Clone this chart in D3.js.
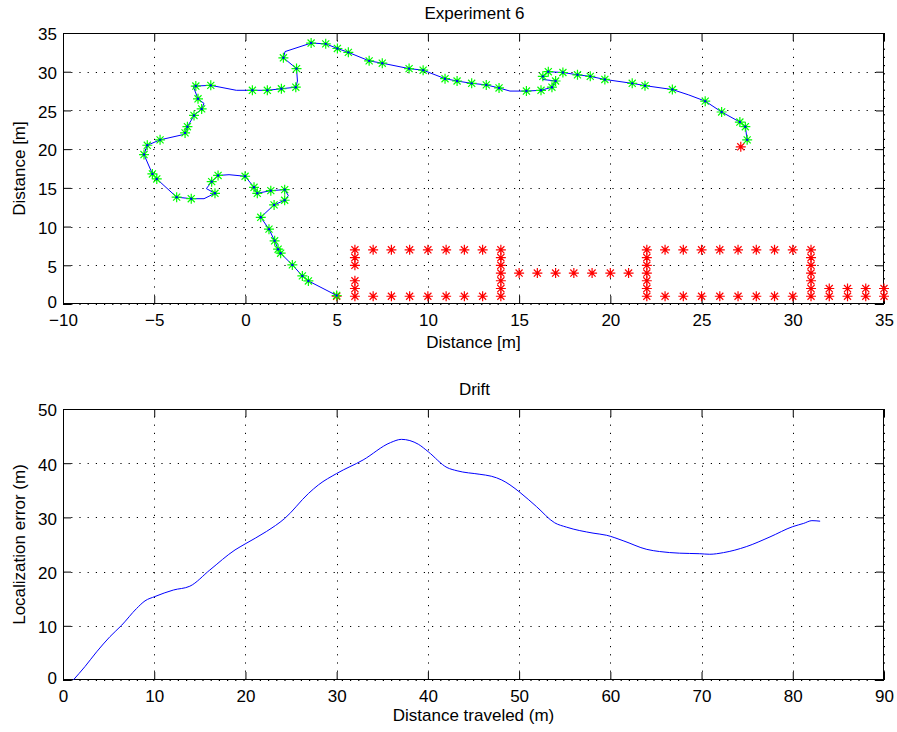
<!DOCTYPE html>
<html>
<head>
<meta charset="utf-8">
<script src="https://cdn.jsdelivr.net/npm/d3@7"></script>
<style>
  html, body { margin: 0; padding: 0; background: #fff; }
  svg { display: block; }
  text { font-family: "Liberation Sans", Arial, Helvetica, sans-serif; fill: #000; }
</style>
</head>
<body>
<svg id="chart" width="897" height="732"></svg>
<script>
// ---- Experiment 6: estimated trajectory (blue line, green keyframe estimates) ----
const trackX = [5.0, 3.45, 3.12, 2.57, 1.93, 1.79, 1.6, 1.29, 0.84, 1.57, 2.15, 2.35, 2.15, 1.39, 0.65, 0.47, -0.02, -0.9, -1.5, -1.85, -2.14, -1.67, -2.27, -2.97, -3.77, -4.86, -5.1, -5.56, -5.38, -4.68, -3.37, -3.31, -3.18, -2.82, -2.4, -2.27, -2.6, -2.87, -2.72, -1.9, -0.5, 0.38, 1.2, 1.97, 2.76, 2.85, 2.8, 2.08, 2.17, 3.6, 4.4, 5.04, 5.64, 6.78, 7.5, 8.97, 9.74, 10.94, 11.6, 12.4, 13.2, 13.9, 14.5, 15.4, 16.2, 16.8, 17.0, 16.3, 16.3, 16.6, 17.4, 18.2, 18.9, 19.7, 21.2, 21.9, 23.4, 24.3, 25.2, 26.1, 27.1, 27.4, 27.5];
const trackY = [1.1, 2.98, 3.63, 5.05, 6.56, 7.08, 8.16, 9.67, 11.2, 12.8, 13.4, 14.0, 14.77, 14.64, 14.3, 15.07, 16.5, 16.7, 16.6, 15.8, 14.9, 14.3, 13.6, 13.6, 13.8, 16.15, 16.8, 19.3, 20.5, 21.2, 21.9, 22.1, 22.9, 24.35, 25.2, 25.9, 26.5, 28.15, 28.15, 28.24, 27.6, 27.6, 27.6, 27.8, 28.0, 28.8, 30.4, 31.8, 32.6, 33.7, 33.6, 33.0, 32.5, 31.4, 31.1, 30.4, 30.2, 29.1, 28.8, 28.5, 28.3, 27.9, 27.5, 27.5, 27.6, 28.0, 28.8, 29.0, 29.4, 30.0, 29.9, 29.6, 29.4, 29.0, 28.5, 28.2, 27.7, 27.0, 26.2, 24.8, 23.5, 22.9, 21.2];
// 1 = keyframe estimate drawn with a green asterisk
const trackKey = [1, 1, 1, 1, 1, 1, 1, 1, 1, 1, 1, 0, 1, 1, 1, 1, 1, 0, 1, 1, 0, 1, 0, 1, 1, 1, 1, 1, 1, 1, 0, 1, 1, 1, 1, 0, 1, 0, 1, 1, 0, 1, 1, 1, 1, 0, 1, 1, 0, 1, 1, 1, 1, 1, 1, 1, 1, 1, 1, 1, 1, 1, 0, 1, 1, 1, 1, 0, 1, 1, 1, 1, 1, 1, 1, 1, 1, 0, 1, 1, 1, 1, 1];

// ---- Ground-truth positions (red asterisks) ----
const truthX = [5,
  6, 6, 6, 6, 6, 6,
  7, 8, 9, 10, 11, 12, 13,
  7, 8, 9, 10, 11, 12, 13,
  14, 14, 14, 14, 14, 14, 14,
  15, 16, 17, 18, 19, 20, 21,
  22, 22, 22, 22, 22, 22, 22,
  23, 24, 25, 26, 27, 28, 29, 30,
  23, 24, 25, 26, 27, 28, 29, 30,
  31, 31, 31, 31, 31, 31, 31,
  32, 33, 34, 35,
  32, 33, 34, 35,
  27.15];
const truthY = [1,
  1, 2, 3, 5, 6, 7,
  7, 7, 7, 7, 7, 7, 7,
  1, 1, 1, 1, 1, 1, 1,
  1, 2, 3, 4, 5, 6, 7,
  4, 4, 4, 4, 4, 4, 4,
  1, 2, 3, 4, 5, 6, 7,
  7, 7, 7, 7, 7, 7, 7, 7,
  1, 1, 1, 1, 1, 1, 1, 1,
  1, 2, 3, 4, 5, 6, 7,
  1, 1, 1, 1,
  2, 2, 2, 2,
  20.3];

const mapXTicks = [-10, -5, 0, 5, 10, 15, 20, 25, 30, 35];
const mapYTicks = [0, 5, 10, 15, 20, 25, 30, 35];

// ---- Drift: localization error vs distance travelled ----
const driftDist = [1.13, 2.4, 3.69, 5.15, 6.43, 8.07, 8.99, 10.08, 12.1, 13.9, 16.1, 18.86, 19.96, 22.3, 24.3, 26.9, 28.0, 30.0, 32.9, 35.9, 37.1, 38.95, 40.05, 42.1, 43.2, 45.7, 46.95, 48.1, 49.0, 50.1, 51.9, 53.9, 55.2, 58.1, 59.6, 61.4, 64.0, 65.4, 67.6, 69.8, 70.9, 72.4, 74.9, 77.5, 80.0, 81.2, 82.1, 83.0];
const driftErr = [0, 2.46, 5.2, 8.0, 10.1, 13.2, 14.6, 15.4, 16.6, 17.3, 20.3, 24.0, 25.1, 27.4, 29.8, 34.4, 36.0, 38.1, 40.6, 43.8, 44.4, 43.5, 42.1, 39.2, 38.6, 37.95, 37.6, 36.9, 36.0, 34.6, 32.0, 29.0, 28.2, 27.1, 26.7, 25.7, 24.1, 23.7, 23.4, 23.3, 23.2, 23.5, 24.6, 26.4, 28.3, 28.9, 29.4, 29.3];

const driftXTicks = [0, 10, 20, 30, 40, 50, 60, 70, 80, 90];
const driftYTicks = [0, 10, 20, 30, 40, 50];

// ---------------------------------------------------------------------------
const svg = d3.select("#chart");
const FONT = 17;

function asterisk(r) {
  const d = r * Math.SQRT1_2;
  return `M${-r},0H${r}M0,${-r}V${r}M${-d},${-d}L${d},${d}M${-d},${d}L${d},${-d}`;
}

function drawFrame(x, y, xTicks, yTicks, box, xPad) {
  const g = svg.append("g");
  // dotted grid
  const grid = g.append("g").attr("stroke", "#000").attr("stroke-width", 1)
    .attr("stroke-dasharray", "1.2,7").attr("fill", "none");
  xTicks.forEach(t => {
    grid.append("line").attr("x1", Math.round(x(t)) + 0.5).attr("x2", Math.round(x(t)) + 0.5)
      .attr("y1", box.bottom).attr("y2", box.top);
  });
  yTicks.forEach(t => {
    grid.append("line").attr("y1", Math.round(y(t)) + 0.5).attr("y2", Math.round(y(t)) + 0.5)
      .attr("x1", box.left).attr("x2", box.right);
  });

  // axes with inward ticks on all four sides
  const bottom = g.append("g").attr("transform", `translate(0,${box.bottom})`)
    .call(d3.axisBottom(x).tickValues(xTicks).tickSize(-8).tickPadding(xPad)
      .tickFormat(d => d < 0 ? "\u2212" + Math.abs(d) : d));
  const left = g.append("g").attr("transform", `translate(${box.left},0)`)
    .call(d3.axisLeft(y).tickValues(yTicks).tickSize(-8).tickPadding(6));
  const top = g.append("g").attr("transform", `translate(0,${box.top})`)
    .call(d3.axisTop(x).tickValues(xTicks).tickSize(-8).tickFormat(""));
  const right = g.append("g").attr("transform", `translate(${box.right},0)`)
    .call(d3.axisRight(y).tickValues(yTicks).tickSize(-8).tickFormat(""));

  [bottom, left, top, right].forEach(a => {
    a.select(".domain").remove();
    a.selectAll("line").attr("stroke", "#000").attr("stroke-width", 1);
    a.selectAll("text").attr("font-size", FONT).attr("font-family", null).attr("fill", "#000");
  });
  // the zero label sits a little above the corner so it clears the x labels
  left.selectAll("text").attr("dy", d => d === 0 ? "0.18em" : "0.4em");

  g.append("rect").attr("x", box.left + 0.5).attr("y", box.top + 0.5)
    .attr("width", box.right - box.left - 1).attr("height", box.bottom - box.top - 1)
    .attr("fill", "none").attr("stroke", "#000").attr("stroke-width", 1);
  return g;
}

function labels(box, title, xLabel, yLabel, xLabelY) {
  const cx = (box.left + box.right) / 2;
  const cy = (box.top + box.bottom) / 2;
  svg.append("text").attr("x", cx + 1).attr("y", box.top - 14).attr("text-anchor", "middle")
    .attr("font-size", FONT).text(title);
  svg.append("text").attr("x", cx).attr("y", xLabelY).attr("text-anchor", "middle")
    .attr("font-size", FONT).text(xLabel);
  svg.append("text").attr("transform", `translate(25,${cy}) rotate(-90)`).attr("text-anchor", "middle")
    .attr("font-size", FONT).text(yLabel);
}

// ---- top panel: map ----
const mapBox = { left: 63, right: 884, top: 33, bottom: 304 };
const mx = d3.scaleLinear().domain([-10, 35]).range([mapBox.left, mapBox.right]);
const my = d3.scaleLinear().domain([0, 35]).range([mapBox.bottom, mapBox.top]);
drawFrame(mx, my, mapXTicks, mapYTicks, mapBox, 10);
labels(mapBox, "Experiment 6", "Distance [m]", "Distance [m]", 347.5);

const truth = truthX.map((v, i) => [v, truthY[i]]);
svg.append("g").selectAll("path").data(truth).join("path")
  .attr("transform", d => `translate(${mx(d[0])},${my(d[1])})`)
  .attr("d", asterisk(5)).attr("stroke", "#ff0000").attr("stroke-width", 1.2).attr("fill", "none");

const track = trackX.map((v, i) => [v, trackY[i], trackKey[i]]);
svg.append("path").datum(track)
  .attr("d", d3.line().x(d => mx(d[0])).y(d => my(d[1])))
  .attr("fill", "none").attr("stroke", "#0000ff").attr("stroke-width", 1);
svg.append("g").selectAll("path").data(track.filter(d => d[2] === 1)).join("path")
  .attr("transform", d => `translate(${mx(d[0])},${my(d[1])})`)
  .attr("d", asterisk(5)).attr("stroke", "#00ff00").attr("stroke-width", 1.2).attr("fill", "none");
svg.append("g").selectAll("circle").data(track.filter(d => d[2] === 1)).join("circle")
  .attr("cx", d => mx(d[0])).attr("cy", d => my(d[1])).attr("r", 1.2).attr("fill", "#0000ff");

// ---- bottom panel: drift ----
const driftBox = { left: 63, right: 884, top: 409, bottom: 680 };
const dx = d3.scaleLinear().domain([0, 90]).range([driftBox.left, driftBox.right]);
const dy = d3.scaleLinear().domain([0, 50]).range([driftBox.bottom, driftBox.top]);
drawFrame(dx, dy, driftXTicks, driftYTicks, driftBox, 9.5);
labels(driftBox, "Drift", "Distance traveled (m)", "Localization error (m)", 721);

const drift = driftDist.map((v, i) => [v, driftErr[i]]);
svg.append("path").datum(drift)
  .attr("d", d3.line().x(d => dx(d[0])).y(d => dy(d[1])).curve(d3.curveMonotoneX))
  .attr("fill", "none").attr("stroke", "#0000ff").attr("stroke-width", 1);
</script>
</body>
</html>
